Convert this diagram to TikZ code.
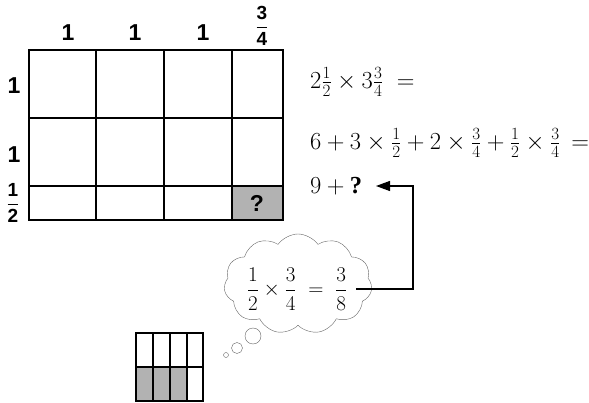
\RequirePackage{fix-cm}
\documentclass[tikz,border=0pt]{standalone}
\usepackage{amsmath}
\usepackage{fontspec}
\setmainfont{Liberation Serif}
\setsansfont{Liberation Sans}
\usetikzlibrary{arrows.meta,shapes.symbols}
\DeclareSymbolFont{rmdigits}{TU}{\rmdefault}{m}{n}
\makeatletter
\@for\dg:={0,1,2,3,4,5,6,7,8,9}\do{%
  \expandafter\DeclareMathSymbol\expandafter{\dg}{\mathalpha}{rmdigits}{\expandafter`\dg}}
\makeatother
\def\qfrac#1#2{\(\genfrac{}{}{1.3pt}{0}{\text{#1}}{\text{#2}}\)}

\begin{document}
\begin{tikzpicture}[x=1pt,y=-1pt,
  lbl/.style={font=\fontsize{23}{26}\selectfont\sffamily\bfseries,inner sep=0pt},
  lblf/.style={font=\fontsize{19}{22}\selectfont\sffamily\bfseries,inner sep=0pt},
  eq/.style={font=\fontsize{24.5}{28}\selectfont,inner sep=0pt}]
\useasboundingbox (0,0) rectangle (589,403);
% area model
\fill[black!30] (232,186) rectangle (283,220);
\draw[line width=1.2pt] (29,50) rectangle (283,220);
\foreach \x in {96,164,232} \draw[line width=1.2pt] (\x,50) -- (\x,220);
\foreach \y in {118,186} \draw[line width=1.2pt] (29,\y) -- (283,\y);
\node[lbl] (c1) at (68,33) {1};
\node[lbl] (c2) at (135,33) {1};
\node[lbl] (c3) at (203,33) {1};
\node[lblf] (c4) at (262,26) {\qfrac34};
\node[lbl] (r1) at (14,86) {1};
\node[lbl] (r2) at (14,155) {1};
\node[lblf] (r3) at (13,203) {\qfrac12};
\node[lbl] (q) at (257,203) {?};
% working
\node[eq,anchor=west] (l1) at (310,82) {$2\frac12\times3\frac34\;=$};
\node[eq,anchor=west] (l2) at (310,143) {$6+3\times\frac12+2\times\frac34+\frac12\times\frac34\,=$};
\node[eq,anchor=west] (nine) at (310,186) {$9+\textbf{?}$};
% thought
\node[cloud,cloud puffs=11,cloud puff arc=110,aspect=1.5,draw=black!60,
  minimum width=148pt,minimum height=100pt] (think) at (298,284) {};
\node[eq,font=\fontsize{21}{25}\selectfont] (prod) at (297,289) {$\dfrac12\times\dfrac34\;=\;\dfrac38$};
\draw[black!60] (253,336) circle (8pt);
\draw[black!60] (237,348) circle (5.5pt);
\draw[black!60] (226,355) circle (2.5pt);
\coordinate (bend) at (413,186);
\coordinate (tip) at (376,186);
\draw[line width=1.2pt,-{Triangle[length=14pt,width=10pt]}] ([xshift=9pt]prod.east) -| (bend) -- (tip);
% small model
\fill[black!30] (136,367) rectangle (187,401);
\draw[line width=1.5pt] (136,333) rectangle (203,401);
\foreach \x in {153,170,187} \draw[line width=1.5pt] (\x,333) -- (\x,401);
\draw[line width=1.5pt] (136,367) -- (203,367);
\end{tikzpicture}
\end{document}
